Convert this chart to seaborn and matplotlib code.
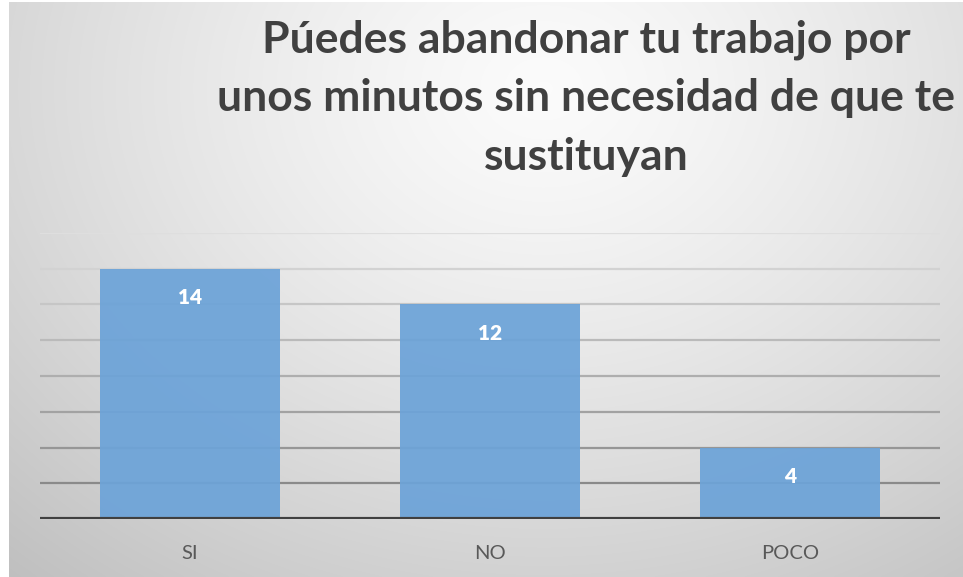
import numpy as np
import pandas as pd
import matplotlib
matplotlib.use("Agg")
import matplotlib.pyplot as plt
import seaborn as sns

categories = ["SI", "NO", "POCO"]
values = [14, 12, 4]
title_lines = ["Púedes abandonar tu trabajo por",
               "unos minutos sin necesidad de que te",
               "sustituyan"]

sns.set_theme(style="white")
plt.rcParams['font.family'] = ['Lato', 'DejaVu Sans']

W, H = 963, 577
fig = plt.figure(figsize=(W / 100, H / 100), dpi=100, facecolor="white")

# background gradient (chart area)
bg = fig.add_axes([9 / W, 0, (W - 9) / W, (H - 2) / H], zorder=-5)
yy, xx = np.mgrid[0:1:300j, 0:1:500j]
r = np.sqrt(((xx - 0.56) / 0.75) ** 2 + ((yy - 0.15) / 1.0) ** 2)
val = 0.985 - 0.20 * np.clip(r, 0, 1.2) ** 1.3
bg.imshow(np.dstack([val, val, val]), aspect="auto", extent=[0, 1, 1, 0], interpolation="bilinear")
bg.set_axis_off()

df = pd.DataFrame({"cat": categories, "val": values})
ax = fig.add_axes([40 / W, 1 - 519 / H, 900 / W, (519 - 233) / H])
ax.set_facecolor("none")
ax.patch.set_alpha(0)

# gridlines (light at top, darker at bottom)
grid_vals = list(range(2, 17, 2))
for g in grid_vals:
    t = (g - 2) / 14
    c = 0.54 + t * (0.87 - 0.54)
    ax.axhline(g, color=(c, c, c), lw=1.6, zorder=0)

sns.barplot(data=df, x="cat", y="val", color="#6CA3D8", saturation=1,
            width=0.6, ax=ax, zorder=2, alpha=0.93, edgecolor="none")
ax.axhline(0, color="#404040", lw=3, zorder=3)

for i, v in enumerate(values):
    ax.annotate(str(v), (i, v), xytext=(0, -29), textcoords="offset pixels",
                ha="center", va="center", color="white", fontsize=15,
                fontweight="heavy", zorder=4)

ax.set_xlim(-0.5, 2.5)
ax.set_ylim(0, 16)
ax.set_yticks([])
ax.set_xlabel("")
ax.set_ylabel("")
ax.tick_params(axis="x", length=0, pad=19, labelsize=14.5, labelcolor="#595959")
for s in ax.spines.values():
    s.set_visible(False)

baselines = [53, 111, 170]
for line, b in zip(title_lines, baselines):
    fig.text(586 / W, 1 - b / H, line, ha="center", va="baseline",
             fontsize=32, fontweight="bold", color="#404040")

fig.savefig("out.png", dpi=100, facecolor="white")
